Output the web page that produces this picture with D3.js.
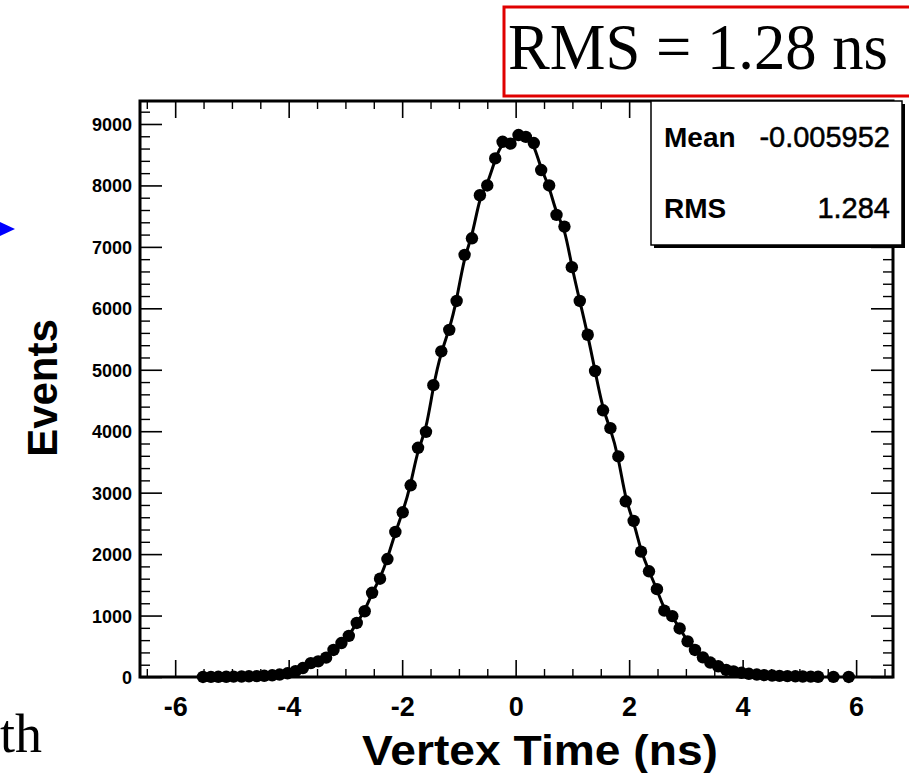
<!DOCTYPE html>
<html>
<head>
<meta charset="utf-8">
<script src="https://cdn.jsdelivr.net/npm/d3@7"></script>
<style>
  html, body { margin: 0; padding: 0; background: #fff; overflow: hidden; }
  svg { display: block; }
</style>
</head>
<body>
<svg id="chart" width="909" height="773"></svg>
<script>
// ---- data ----
const binCenters = [
  -5.51, -5.37, -5.24, -5.10, -4.97, -4.83, -4.70, -4.56, -4.43, -4.29,
  -4.16, -4.02, -3.88, -3.75, -3.61, -3.48, -3.34, -3.21, -3.07, -2.94,
  -2.80, -2.66, -2.53, -2.39, -2.26, -2.12, -1.99, -1.85, -1.72, -1.58,
  -1.45, -1.31, -1.17, -1.04, -0.90, -0.77, -0.63, -0.50, -0.36, -0.23,
  -0.09, 0.05, 0.18, 0.32, 0.45, 0.59, 0.72, 0.86, 0.99, 1.13,
  1.27, 1.40, 1.54, 1.67, 1.81, 1.94, 2.08, 2.21, 2.35, 2.49,
  2.62, 2.76, 2.89, 3.03, 3.16, 3.30, 3.43, 3.57, 3.71, 3.84,
  3.98, 4.11, 4.25, 4.38, 4.52, 4.65, 4.79, 4.93, 5.06, 5.20,
  5.33, 5.47, 5.60, 5.74, 5.87
];
const eventCounts = [
  1, 2, 3, 4, 6, 8, 11, 15, 20, 28,
  40, 60, 95, 146, 225, 255, 315, 440, 553, 670,
  880, 1070, 1370, 1600, 1920, 2360, 2680, 3120, 3730, 3990,
  4750, 5300, 5650, 6120, 6870, 7140, 7840, 8000, 8440, 8710,
  8680, 8820, 8790, 8690, 8250, 8000, 7520, 7330, 6670, 6120,
  5570, 4980, 4340, 4050, 3590, 2860, 2540, 2040, 1720, 1430,
  1080, 990, 790, 580, 440, 320, 235, 175, 115, 90,
  68, 52, 40, 30, 24, 18, 14, 11, 8, 6,
  4, null, 2, null, 1
];
const xTickLabels = [-6, -4, -2, 0, 2, 4, 6];
const yTickLabels = [0, 1000, 2000, 3000, 4000, 5000, 6000, 7000, 8000, 9000];
const statNames = ["Mean", "RMS"];
const statValues = ["-0.005952", "1.284"];
const headline = "RMS = 1.28 ns";
const xTitle = "Vertex Time (ns)";
const yTitle = "Events";
const sideText = "th";

// ---- layout ----
const svg = d3.select("#chart");
const L = 140, R = 893, T = 101, B = 677;
const x = d3.scaleLinear().domain([-6.62, 6.65]).range([L, R]);
const y = d3.scaleLinear().domain([0, 9374]).range([B, T]);

const sans = "'Liberation Sans', Arial, Helvetica, sans-serif";
const serif = "'Liberation Serif', 'Times New Roman', serif";

// ---- ticks (drawn inside the frame on all four sides) ----
const xMinor = d3.range(-6.5, 6.6, 0.5).filter(v => Math.abs(v % 2) > 1e-6);
const yMinor = d3.range(0, 9374, 200).filter(v => v % 1000 !== 0);

const g = svg.append("g");

function styleTicks(sel, w) {
  sel.select(".domain").remove();
  sel.selectAll(".tick line").attr("stroke", "#000").attr("stroke-width", w);
}

// bottom axis
const axB = g.append("g").attr("transform", `translate(0,${B})`)
  .call(d3.axisBottom(x).tickValues(xTickLabels).tickSizeInner(-17).tickSizeOuter(0));
styleTicks(axB, 1.6);
axB.selectAll(".tick text").attr("y", 12).attr("dy", "1em")
  .attr("font-family", sans).attr("font-weight", "bold").attr("font-size", 27).attr("fill", "#000")
  .text(d => d < 0 ? "-" + Math.abs(d) : d);
const axBm = g.append("g").attr("transform", `translate(0,${B})`)
  .call(d3.axisBottom(x).tickValues(xMinor).tickSizeInner(-8).tickSizeOuter(0).tickFormat(""));
styleTicks(axBm, 1.4);

// top axis
const axT = g.append("g").attr("transform", `translate(0,${T})`)
  .call(d3.axisTop(x).tickValues(xTickLabels).tickSizeInner(-17).tickSizeOuter(0).tickFormat(""));
styleTicks(axT, 1.6);
const axTm = g.append("g").attr("transform", `translate(0,${T})`)
  .call(d3.axisTop(x).tickValues(xMinor).tickSizeInner(-8).tickSizeOuter(0).tickFormat(""));
styleTicks(axTm, 1.4);

// left axis
const axL = g.append("g").attr("transform", `translate(${L},0)`)
  .call(d3.axisLeft(y).tickValues(yTickLabels).tickSizeInner(-22).tickSizeOuter(0).tickFormat(d3.format("d")));
styleTicks(axL, 1.6);
axL.selectAll(".tick text").attr("x", -8).attr("dy", "0.36em")
  .attr("font-family", sans).attr("font-weight", "bold").attr("font-size", 18).attr("fill", "#000");
const axLm = g.append("g").attr("transform", `translate(${L},0)`)
  .call(d3.axisLeft(y).tickValues(yMinor).tickSizeInner(-10).tickSizeOuter(0).tickFormat(""));
styleTicks(axLm, 1.4);

// right axis
const axR = g.append("g").attr("transform", `translate(${R},0)`)
  .call(d3.axisRight(y).tickValues(yTickLabels).tickSizeInner(-22).tickSizeOuter(0).tickFormat(""));
styleTicks(axR, 1.6);
const axRm = g.append("g").attr("transform", `translate(${R},0)`)
  .call(d3.axisRight(y).tickValues(yMinor).tickSizeInner(-10).tickSizeOuter(0).tickFormat(""));
styleTicks(axRm, 1.4);

// frame
svg.append("rect").attr("x", L).attr("y", T).attr("width", R - L).attr("height", B - T)
  .attr("fill", "none").attr("stroke", "#000").attr("stroke-width", 3);

// ---- data: line + markers ----
const pts = binCenters.map((c, i) => ({ c, v: eventCounts[i] })).filter(d => d.v !== null);
const lineGen = d3.line().x(d => x(d.c)).y(d => y(d.v)).curve(d3.curveBasis);
svg.append("path").datum(pts.filter(d => d.c < 5.4)).attr("d", lineGen)
  .attr("fill", "none").attr("stroke", "#000").attr("stroke-width", 3);
svg.append("g").selectAll("circle").data(pts).join("circle")
  .attr("cx", d => x(d.c)).attr("cy", d => y(d.v)).attr("r", 6.2).attr("fill", "#000");

// ---- stats box ----
const sb = { x: 651, y: 101, w: 251, h: 144 };
svg.append("rect").attr("x", sb.x + 3).attr("y", sb.y + 3).attr("width", sb.w).attr("height", sb.h).attr("fill", "#000");
svg.append("rect").attr("x", sb.x).attr("y", sb.y).attr("width", sb.w).attr("height", sb.h)
  .attr("fill", "#fff").attr("stroke", "#000").attr("stroke-width", 1.5);
const statY = [147, 218];
statNames.forEach((n, i) => {
  svg.append("text").attr("x", 664).attr("y", statY[i]).text(n)
    .attr("font-family", sans).attr("font-weight", "bold").attr("font-size", 28).attr("fill", "#000");
  svg.append("text").attr("x", 890).attr("y", statY[i]).attr("text-anchor", "end").text(statValues[i])
    .attr("font-family", sans).attr("font-size", 29).attr("fill", "#000")
    .attr("stroke", "#000").attr("stroke-width", 0.5);
});

// ---- axis titles ----
svg.append("text").attr("x", 362).attr("y", 765).text(xTitle)
  .attr("textLength", 356).attr("lengthAdjust", "spacingAndGlyphs")
  .attr("font-family", sans).attr("font-weight", "bold").attr("font-size", 43).attr("fill", "#000");
svg.append("text").attr("transform", "translate(57,388) rotate(-90)").attr("text-anchor", "middle").text(yTitle)
  .attr("font-family", sans).attr("font-weight", "bold").attr("font-size", 42).attr("fill", "#000");

// ---- headline box ----
svg.append("rect").attr("x", 504).attr("y", 7).attr("width", 420).attr("height", 89)
  .attr("fill", "none").attr("stroke", "#e00000").attr("stroke-width", 3);
svg.append("text").attr("x", 508).attr("y", 69).text(headline)
  .attr("textLength", 380).attr("lengthAdjust", "spacingAndGlyphs")
  .attr("font-family", serif).attr("font-size", 66).attr("fill", "#000");

// ---- slide fragments ----
svg.append("text").attr("x", 0).attr("y", 752).text(sideText)
  .attr("font-family", serif).attr("font-size", 54).attr("fill", "#000");
svg.append("path").attr("d", "M0,222 L15,229 L0,236 Z").attr("fill", "#0000ff");
</script>
</body>
</html>
